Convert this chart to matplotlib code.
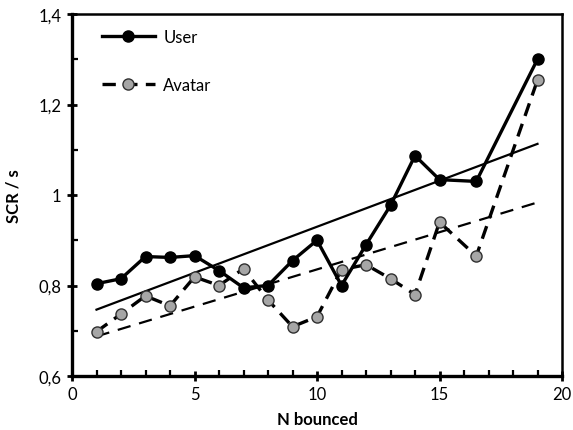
import numpy as np
import matplotlib
matplotlib.use('Agg')
import matplotlib.pyplot as plt
from matplotlib.ticker import FuncFormatter, MultipleLocator

# 数据
n_bounced = [1, 2, 3, 4, 5, 6, 7, 8, 9, 10, 11, 12, 13, 14, 15, 16.5, 19]
user_scr = [0.804, 0.815, 0.864, 0.862, 0.866, 0.833, 0.795, 0.800, 0.855,
            0.900, 0.800, 0.890, 0.977, 1.087, 1.034, 1.030, 1.300]
avatar_scr = [0.698, 0.737, 0.777, 0.755, 0.819, 0.800, 0.837, 0.768, 0.709,
              0.731, 0.835, 0.846, 0.815, 0.780, 0.940, 0.865, 1.254]

plt.rcParams['font.family'] = ['Lato', 'DejaVu Sans']

fig = plt.figure(figsize=(5.73, 4.31), dpi=100)
ax = fig.add_axes([72 / 573, 1 - 377 / 431, (562 - 72) / 573, (377 - 15) / 431])

x = np.array(n_bounced)

# 数据线
ax.plot(x, user_scr, color='black', lw=2.4, marker='o', ms=8,
        mfc='black', mec='black', label='User', zorder=4)
ax.plot(x, avatar_scr, color='black', lw=2.4, ls=(0, (4, 2.5)), marker='o', ms=8,
        mfc='#a6a6a6', mec='#303030', mew=1.0, label='Avatar', zorder=3)

# 线性趋势线
xs = np.array([x.min(), x.max()])
k1, b1 = np.polyfit(x, user_scr, 1)
k2, b2 = np.polyfit(x, avatar_scr, 1)
ax.plot(xs, k1 * xs + b1, color='black', lw=1.6, zorder=2)
ax.plot(xs, k2 * xs + b2, color='black', lw=1.6, ls=(0, (6, 4)), zorder=2)

ax.set_xlim(0, 20)
ax.set_ylim(0.6, 1.4)
ax.xaxis.set_major_locator(MultipleLocator(5))
ax.xaxis.set_minor_locator(MultipleLocator(1))
ax.yaxis.set_major_locator(MultipleLocator(0.2))
ax.yaxis.set_minor_locator(MultipleLocator(0.1))


def comma_fmt(v, pos):
    s = ('%.1f' % v).rstrip('0').rstrip('.')
    return s.replace('.', ',')


ax.yaxis.set_major_formatter(FuncFormatter(comma_fmt))

ax.tick_params(which='major', direction='inout', length=7, width=2.0,
               labelsize=12, pad=4)
ax.tick_params(which='minor', direction='in', length=4, width=1.6)
ax.tick_params(top=False, right=False, which='both')

for side in ['left', 'bottom']:
    ax.spines[side].set_linewidth(2.4)
for side in ['top', 'right']:
    ax.spines[side].set_linewidth(1.8)

ax.set_xlabel('N bounced', fontsize=12, fontweight='bold', labelpad=6)
ax.set_ylabel('SCR / s', fontsize=12, fontweight='bold', labelpad=12)

ax.legend(loc='upper left', frameon=False, fontsize=12, handlelength=3.2,
          handletextpad=0.5, labelspacing=1.9, borderaxespad=0.5,
          bbox_to_anchor=(0.03, 1.0))

fig.savefig('out.png', dpi=100)
